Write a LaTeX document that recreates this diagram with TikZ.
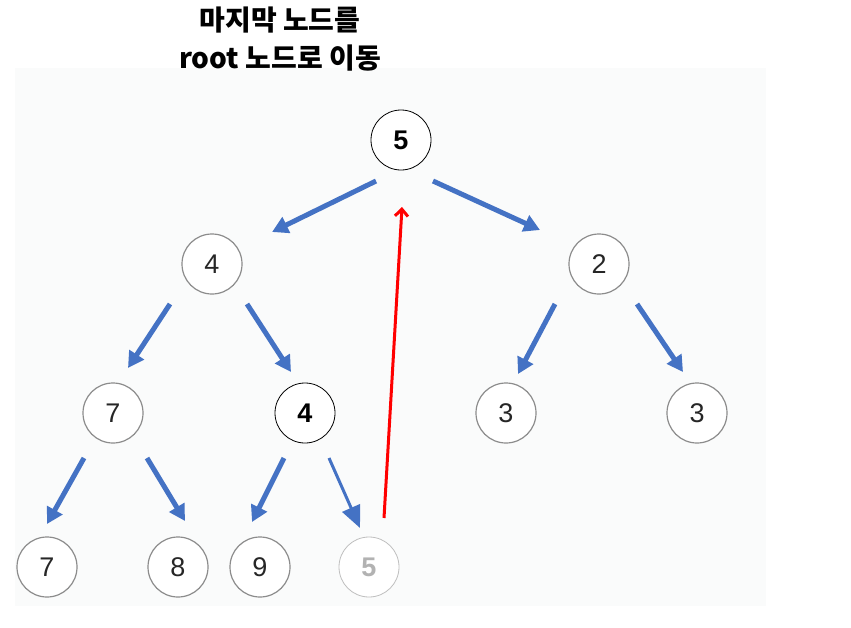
\documentclass[tikz,border=0pt]{standalone}
\usepackage{fontspec}
\setmainfont{Liberation Sans}
\newfontfamily\kr{Noto Sans CJK KR}
\usetikzlibrary{arrows.meta}
\definecolor{bgc}{HTML}{FAFBFB}
\definecolor{blu}{HTML}{4472C4}
\tikzset{
  x=1pt,y=-1pt,
  nd/.style={circle,draw=black!45,line width=1.2pt,fill=white,minimum size=60pt,inner sep=0pt,font=\fontsize{27}{29}\selectfont,text=black!85},
  ndb/.style={nd,draw=black,line width=0.8pt,font=\fontsize{27}{29}\selectfont\bfseries,text=black},
  ndf/.style={nd,draw=black!25,line width=0.8pt,font=\fontsize{27}{29}\selectfont\bfseries,text=black!30},
  barrow/.style={draw=blu,line width=5pt,-{Triangle[width=17pt,length=16pt]}},
  tarrow/.style={draw=blu,line width=3pt,-{Triangle[width=19pt,length=22pt]}},
  rarrow/.style={draw=red,line width=3pt,-{Straight Barb[width=13pt,length=7pt,line width=3pt]}},
}
\begin{document}
\begin{tikzpicture}
\useasboundingbox (0,0) rectangle (851,627);
\fill[bgc] (15,68) rectangle (766,606);
\node[font=\kr\bfseries\fontsize{28}{38}\selectfont,align=center] (title) at (280,39) {마지막 노드를\\root 노드로 이동};
\node[ndb] (r) at (401,140) {5};
\node[nd] (a) at (212,264) {4};
\node[nd] (b) at (599,264) {2};
\node[nd] (c) at (113,413) {7};
\node[ndb] (d) at (305,413) {4};
\node[nd] (e) at (506,413) {3};
\node[nd] (f) at (697,413) {3};
\node[nd] (g) at (47,567) {7};
\node[nd] (h) at (178,567) {8};
\node[nd] (i) at (260,567) {9};
\node[ndf] (j) at (369,567) {5};
\coordinate (r1) at (376,181); \coordinate (r1e) at (272,232);
\coordinate (r2) at (433,181); \coordinate (r2e) at (540,230);
\coordinate (a1) at (170,304); \coordinate (a1e) at (128,368);
\coordinate (a2) at (247,304); \coordinate (a2e) at (291,372);
\coordinate (b1) at (555,304); \coordinate (b1e) at (518,374);
\coordinate (b2) at (637,304); \coordinate (b2e) at (683,372);
\coordinate (c1) at (84,458); \coordinate (c1e) at (47,524);
\coordinate (c2) at (147,458); \coordinate (c2e) at (185,521);
\coordinate (d1) at (284,458); \coordinate (d1e) at (252,522);
\coordinate (d2) at (329,458); \coordinate (d2e) at (360,528);
\coordinate (m1) at (384,518); \coordinate (m1e) at (402,207);
\draw[barrow] (r1) -- (r1e);
\draw[barrow] (r2) -- (r2e);
\draw[barrow] (a1) -- (a1e);
\draw[barrow] (a2) -- (a2e);
\draw[barrow] (b1) -- (b1e);
\draw[barrow] (b2) -- (b2e);
\draw[barrow] (c1) -- (c1e);
\draw[barrow] (c2) -- (c2e);
\draw[barrow] (d1) -- (d1e);
\draw[tarrow] (d2) -- (d2e);
\draw[rarrow] (m1) -- (m1e);
\end{tikzpicture}
\end{document}
